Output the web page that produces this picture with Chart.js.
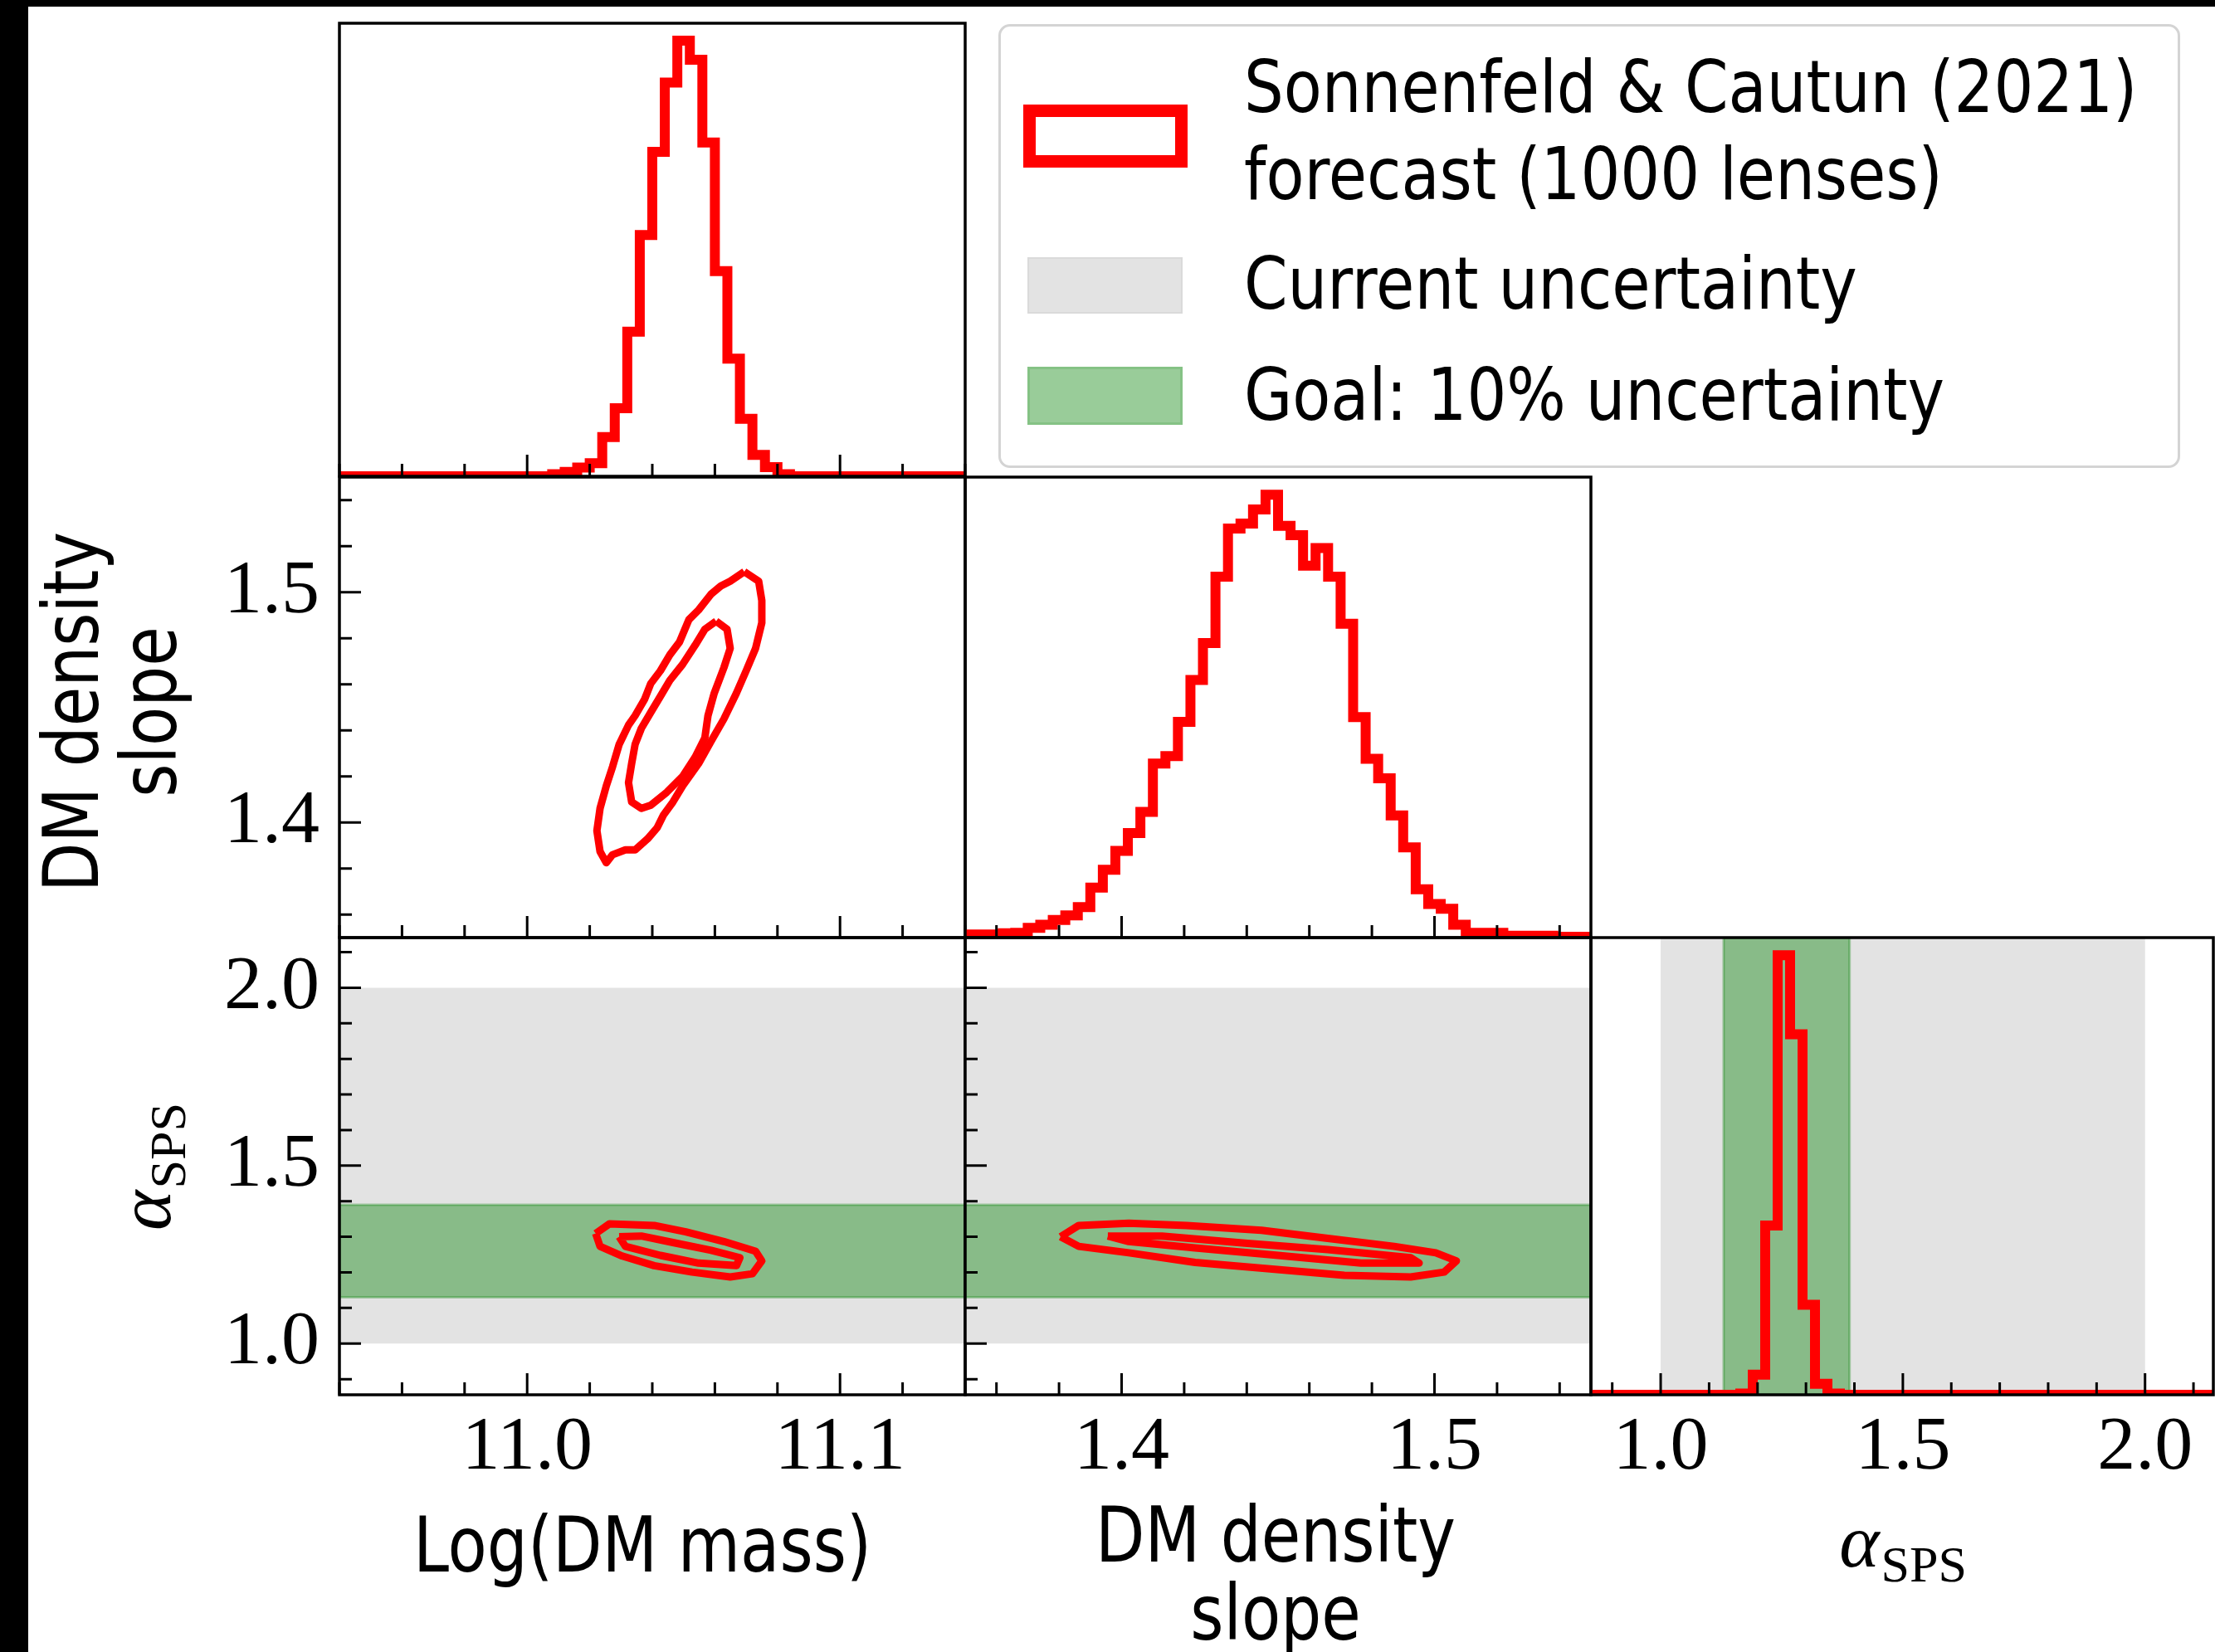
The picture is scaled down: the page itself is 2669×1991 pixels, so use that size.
<!DOCTYPE html>
<html>
<head>
<meta charset="utf-8">
<script src="https://cdn.jsdelivr.net/npm/chart.js@4.4.1/dist/chart.umd.min.js"></script>
<style>
html, body { margin: 0; padding: 0; background: #fff; overflow: hidden; }
#page { position: relative; width: 2669px; height: 1991px; background: #fff; }
canvas { position: absolute; }
.bar { position: absolute; background: #000; }
.ax { position: absolute; font-family: "DejaVu Sans", sans-serif; font-size: 92px; line-height: 94px;
      white-space: pre; text-align: center; color: #000; }
.alpha { font-family: "Liberation Serif", serif; }
.sub { font-size: 62px; position: relative; top: 18px; margin-left: 2px; }
#legend { position: absolute; left: 1203px; top: 29px; width: 1424px; height: 535px; box-sizing: border-box;
          border: 3px solid #d4d4d4; border-radius: 14px; background: #fff; z-index: 5; }
.patch { position: absolute; box-sizing: border-box; }
.lt { position: absolute; left: 293px; font-family: "DejaVu Sans", sans-serif; font-size: 88px; line-height: 100px;
      white-space: pre; transform: scaleX(0.855); transform-origin: 0 0; color: #000; }
</style>
</head>
<body>
<div id="page">
  <div class="bar" style="left:0;top:0;width:34px;height:1991px"></div>
  <div class="bar" style="left:0;top:0;width:2669px;height:8px"></div>

  <div id="legend">
    <div class="patch" style="left:27px;top:94px;width:198px;height:76px;border:15px solid #ff0000"></div>
    <div class="patch" style="left:32px;top:278px;width:187px;height:68px;background:#e3e3e3;border:2px solid #dadada"></div>
    <div class="patch" style="left:32px;top:410px;width:187px;height:70px;background:#99cc99;border:3px solid #85c285"></div>
    <div class="lt" style="top:23px">Sonnenfeld &amp; Cautun (2021)</div>
    <div class="lt" style="top:128px">forecast (1000 lenses)</div>
    <div class="lt" style="top:260px">Current uncertainty</div>
    <div class="lt" style="top:394px">Goal: 10% uncertainty</div>
  </div>

  <div class="ax" style="left:774px;top:1816px;transform:translateX(-50%) scaleX(0.84)">Log(DM mass)</div>
  <div class="ax" style="left:1537px;top:1804px;transform:translateX(-50%) scaleX(0.84)">DM density
slope</div>
  <div class="ax alpha" style="left:2293px;top:1810px;transform:translateX(-50%)"><i>α</i><span class="sub">SPS</span></div>
  <div class="ax" style="left:134px;top:858px;transform:translate(-50%,-50%) rotate(-90deg) scaleX(0.84)">DM density
slope</div>
  <div class="ax alpha" style="left:179px;top:1406px;transform:translate(-50%,-50%) rotate(-90deg)"><i>α</i><span class="sub">SPS</span></div>
</div>

<script>
// axis ranges and tick labels
const massRange = [10.94, 11.14];
const slopeRange = [1.35, 1.55];
const alphaRange = [0.856, 2.141];
const histRange = [0, 104];

const massTicks = [11.0, 11.1];
const slopeTicks = [1.4, 1.5];
const alphaTicks = [1.0, 1.5, 2.0];

// 1D histograms, 50 bins over each axis range (peak = 100)
const massHist = [0, 0, 0, 0, 0, 0, 0, 0, 0, 0,
  0, 0, 0, 0, 0, 0, 0, 0.5, 1.0, 2.0,
  3.0, 9.0, 15.6, 33.2, 55.4, 74.5, 90.4, 100, 95.6, 76.6,
  47.1, 27.0, 13.2, 4.9, 2.1, 0.5, 0, 0, 0, 0,
  0, 0, 0, 0, 0, 0, 0, 0, 0, 0];
const slopeHist = [0.7, 0.7, 0.7, 1.0, 1.1, 2.2, 2.9, 4.0, 5.0, 6.9,
  11.3, 15.3, 19.6, 23.6, 28.4, 39.3, 41.0, 48.7, 58.2, 66.5,
  81.5, 92.4, 93.5, 96.7, 100, 93.0, 90.9, 84.0, 88.0, 81.5,
  70.9, 49.8, 40.4, 36.0, 27.6, 20.4, 10.9, 7.6, 6.5, 2.9,
  1.1, 1.1, 1.1, 0.4, 0.4, 0.4, 0.4, 0.2, 0.2, 0.2];
const alphaHist = [0, 0, 0, 0, 0, 0, 0, 0, 0, 0,
  0, 0, 0.3, 4.6, 38.5, 100, 82.0, 20.5, 2.5, 0.3,
  0, 0, 0, 0, 0, 0, 0, 0, 0, 0,
  0, 0, 0, 0, 0, 0, 0, 0, 0, 0,
  0, 0, 0, 0, 0, 0, 0, 0, 0, 0];

// alpha_SPS bands
const currentBand = [1.0, 2.0];
const goalBand = [1.13, 1.39];

// contour levels (outer, inner)
const massSlopeOuter = [[11.0694,1.5089],[11.0740,1.5048],[11.0750,1.4964],[11.0750,1.4867],[11.0730,1.4756],
  [11.0700,1.4659],[11.0669,1.4562],[11.0629,1.4450],[11.0588,1.4353],[11.0548,1.4256],[11.0497,1.4159],
  [11.0466,1.4089],[11.0436,1.4033],[11.0416,1.3978],[11.0385,1.3929],[11.0345,1.3881],[11.0314,1.3881],
  [11.0273,1.3860],[11.0253,1.3825],[11.0233,1.3874],[11.0223,1.3964],[11.0233,1.4061],[11.0253,1.4159],
  [11.0273,1.4242],[11.0294,1.4339],[11.0324,1.4423],[11.0345,1.4464],[11.0375,1.4534],[11.0395,1.4603],
  [11.0426,1.4659],[11.0456,1.4728],[11.0487,1.4784],[11.0517,1.4881],[11.0548,1.4923],[11.0588,1.4992],
  [11.0619,1.5027],[11.0649,1.5048]];
const massSlopeInner = [[11.0604,1.4874],[11.0639,1.4839],[11.0649,1.4756],[11.0629,1.4673],[11.0598,1.4562],
  [11.0578,1.4464],[11.0568,1.4367],[11.0537,1.4284],[11.0497,1.4200],[11.0446,1.4131],[11.0395,1.4075],
  [11.0365,1.4061],[11.0334,1.4089],[11.0324,1.4173],[11.0334,1.4256],[11.0345,1.4339],[11.0365,1.4409],
  [11.0395,1.4478],[11.0426,1.4548],[11.0456,1.4617],[11.0497,1.4687],[11.0537,1.4770],[11.0568,1.4839]];
const massAlphaOuter = [[11.0219,1.3093],[11.0263,1.3364],[11.0406,1.3320],[11.0507,1.3140],[11.0629,1.2868],
  [11.0730,1.2596],[11.0750,1.2324],[11.0720,1.1963],[11.0649,1.1873],[11.0527,1.2008],[11.0406,1.2190],
  [11.0304,1.2459],[11.0233,1.2731]];
const massAlphaInner = [[11.0294,1.3003],[11.0365,1.3022],[11.0466,1.2840],[11.0588,1.2622],[11.0680,1.2414],
  [11.0669,1.2190],[11.0548,1.2261],[11.0426,1.2478],[11.0314,1.2731]];
const slopeAlphaOuter = [[1.3805,1.3003],[1.3863,1.3320],[1.4023,1.3383],[1.4208,1.3320],[1.4447,1.3185],
  [1.4659,1.2958],[1.4871,1.2731],[1.5004,1.2551],[1.5070,1.2324],[1.5031,1.2008],[1.4924,1.1873],
  [1.4712,1.1918],[1.4474,1.2098],[1.4235,1.2280],[1.4023,1.2551],[1.3863,1.2731]];
const slopeAlphaInner = [[1.3956,1.3022],[1.4129,1.3022],[1.4394,1.2823],[1.4659,1.2641],[1.4924,1.2414],
  [1.4951,1.2261],[1.4765,1.2261],[1.4500,1.2478],[1.4235,1.2686],[1.4023,1.2868]];

// panel grid (pixels)
const COLX = [409, 1163, 1917], COLW = [754, 754, 750];
const ROWY = [28, 575, 1130], ROWH = [546, 555, 551];

const RED = '#ff0000';
const GRAY = '#e3e3e3';
const GREEN = 'rgba(0,128,0,0.4)';
const GREEN_EDGE = 'rgba(0,128,0,0.3)';

function histPoints(counts, range) {
  const w = (range[1] - range[0]) / counts.length;
  const pts = [{x: range[0], y: 0}];
  counts.forEach((c, i) => pts.push({x: range[0] + i * w, y: c}));
  pts.push({x: range[1], y: 0});
  return pts;
}

function hist(counts, range) {
  return {data: histPoints(counts, range), borderColor: RED, borderWidth: 12,
    stepped: true, clip: 0, order: 0, borderJoinStyle: 'miter'};
}

function contour(pts, order) {
  const d = pts.map(p => ({x: p[0], y: p[1]}));
  d.push(d[0]);
  return {data: d, borderColor: RED, borderWidth: 9, borderJoinStyle: 'round', order: order};
}

function box(x0, x1, y0, y1, color, edge, order) {
  return {
    data: [{x: x0, y: y0}, {x: x1, y: y0}, {x: x1, y: y1}, {x: x0, y: y1}, {x: x0, y: y0}],
    fill: 'shape', backgroundColor: color,
    borderColor: edge || 'rgba(0,0,0,0)', borderWidth: edge ? 3 : 1, order: order
  };
}

function marks(scale, major, step) {
  const out = major.map(v => [v, true]);
  for (let i = Math.ceil(scale.min / step - 1e-6); i * step <= scale.max + 1e-9; i++) {
    const v = i * step;
    if (!major.some(m => Math.abs(m - v) < step / 10)) out.push([v, false]);
  }
  return out;
}

// frame + inward ticks like matplotlib
function frame(t) {
  return {
    id: 'frame',
    afterDatasetsDraw(chart) {
      const {ctx, chartArea: a} = chart;
      const sx = chart.scales.x, sy = chart.scales.y;
      ctx.save();
      ctx.strokeStyle = '#000';
      ctx.lineWidth = 3;
      ctx.beginPath();
      if (t.x) {
        marks(sx, t.x, t.xs).forEach(([v, major]) => {
          const px = sx.getPixelForValue(v);
          ctx.moveTo(px, a.bottom);
          ctx.lineTo(px, a.bottom - (major ? 26 : 15));
        });
      }
      if (t.y) {
        marks(sy, t.y, t.ys).forEach(([v, major]) => {
          const py = sy.getPixelForValue(v);
          ctx.moveTo(a.left, py);
          ctx.lineTo(a.left + (major ? 26 : 15), py);
        });
      }
      ctx.stroke();
      ctx.lineWidth = 3.5;
      ctx.strokeRect(a.left, a.top, a.right - a.left, a.bottom - a.top);
      ctx.restore();
    }
  };
}

function axis(pos, range, ticks, showLabels) {
  return {
    type: 'linear', position: pos, min: range[0], max: range[1],
    grid: {display: false, drawTicks: false},
    border: {display: false},
    ticks: {
      display: showLabels, autoSkip: false, maxRotation: 0, minRotation: 0,
      padding: pos === 'bottom' ? 10 : 24,
      font: {family: 'Liberation Serif', size: 92},
      color: '#000',
      callback: v => Number(v).toFixed(1)
    },
    afterBuildTicks: s => { s.ticks = (ticks || []).map(v => ({value: v})); },
    afterFit: s => {
      if (pos === 'bottom') s.height = 130; else s.width = 200;
      s.paddingLeft = s.paddingRight = s.paddingTop = s.paddingBottom = 0;
    }
  };
}

function panel(col, row, p) {
  const c = document.createElement('canvas');
  c.width = COLW[col] + 210;
  c.height = ROWH[row] + 140;
  c.style.left = (COLX[col] - 200) + 'px';
  c.style.top = (ROWY[row] - 10) + 'px';
  document.getElementById('page').appendChild(c);
  new Chart(c, {
    type: 'line',
    data: {datasets: p.datasets},
    options: {
      responsive: false, animation: false, events: [],
      layout: {padding: {left: 0, top: 10, right: 10, bottom: 0}},
      elements: {point: {radius: 0, hoverRadius: 0}, line: {tension: 0, fill: false}},
      plugins: {legend: {display: false}, tooltip: {enabled: false}},
      scales: {
        x: axis('bottom', p.xr, p.xt, p.xl),
        y: axis('left', p.yr, p.yt, p.yl)
      }
    },
    plugins: [frame(p.marks)]
  });
}

// row 0
panel(0, 0, {
  datasets: [hist(massHist, massRange)],
  xr: massRange, xt: massTicks, xl: false, yr: histRange, yt: [], yl: false,
  marks: {x: massTicks, xs: 0.02}
});

// row 1
panel(0, 1, {
  datasets: [contour(massSlopeOuter, 1), contour(massSlopeInner, 0)],
  xr: massRange, xt: massTicks, xl: false, yr: slopeRange, yt: slopeTicks, yl: true,
  marks: {x: massTicks, xs: 0.02, y: slopeTicks, ys: 0.02}
});
panel(1, 1, {
  datasets: [hist(slopeHist, slopeRange)],
  xr: slopeRange, xt: slopeTicks, xl: false, yr: histRange, yt: [], yl: false,
  marks: {x: slopeTicks, xs: 0.02}
});

// row 2
panel(0, 2, {
  datasets: [
    contour(massAlphaOuter, 1), contour(massAlphaInner, 0),
    box(massRange[0], massRange[1], goalBand[0], goalBand[1], GREEN, GREEN_EDGE, 2),
    box(massRange[0], massRange[1], currentBand[0], currentBand[1], GRAY, null, 3)
  ],
  xr: massRange, xt: massTicks, xl: true, yr: alphaRange, yt: alphaTicks, yl: true,
  marks: {x: massTicks, xs: 0.02, y: alphaTicks, ys: 0.1}
});
panel(1, 2, {
  datasets: [
    contour(slopeAlphaOuter, 1), contour(slopeAlphaInner, 0),
    box(slopeRange[0], slopeRange[1], goalBand[0], goalBand[1], GREEN, GREEN_EDGE, 2),
    box(slopeRange[0], slopeRange[1], currentBand[0], currentBand[1], GRAY, null, 3)
  ],
  xr: slopeRange, xt: slopeTicks, xl: true, yr: alphaRange, yt: alphaTicks, yl: false,
  marks: {x: slopeTicks, xs: 0.02, y: alphaTicks, ys: 0.1}
});
panel(2, 2, {
  datasets: [
    hist(alphaHist, alphaRange),
    box(goalBand[0], goalBand[1], histRange[0], histRange[1], GREEN, GREEN_EDGE, 2),
    box(currentBand[0], currentBand[1], histRange[0], histRange[1], GRAY, null, 3)
  ],
  xr: alphaRange, xt: alphaTicks, xl: true, yr: histRange, yt: [], yl: false,
  marks: {x: alphaTicks, xs: 0.1}
});
</script>
</body>
</html>
